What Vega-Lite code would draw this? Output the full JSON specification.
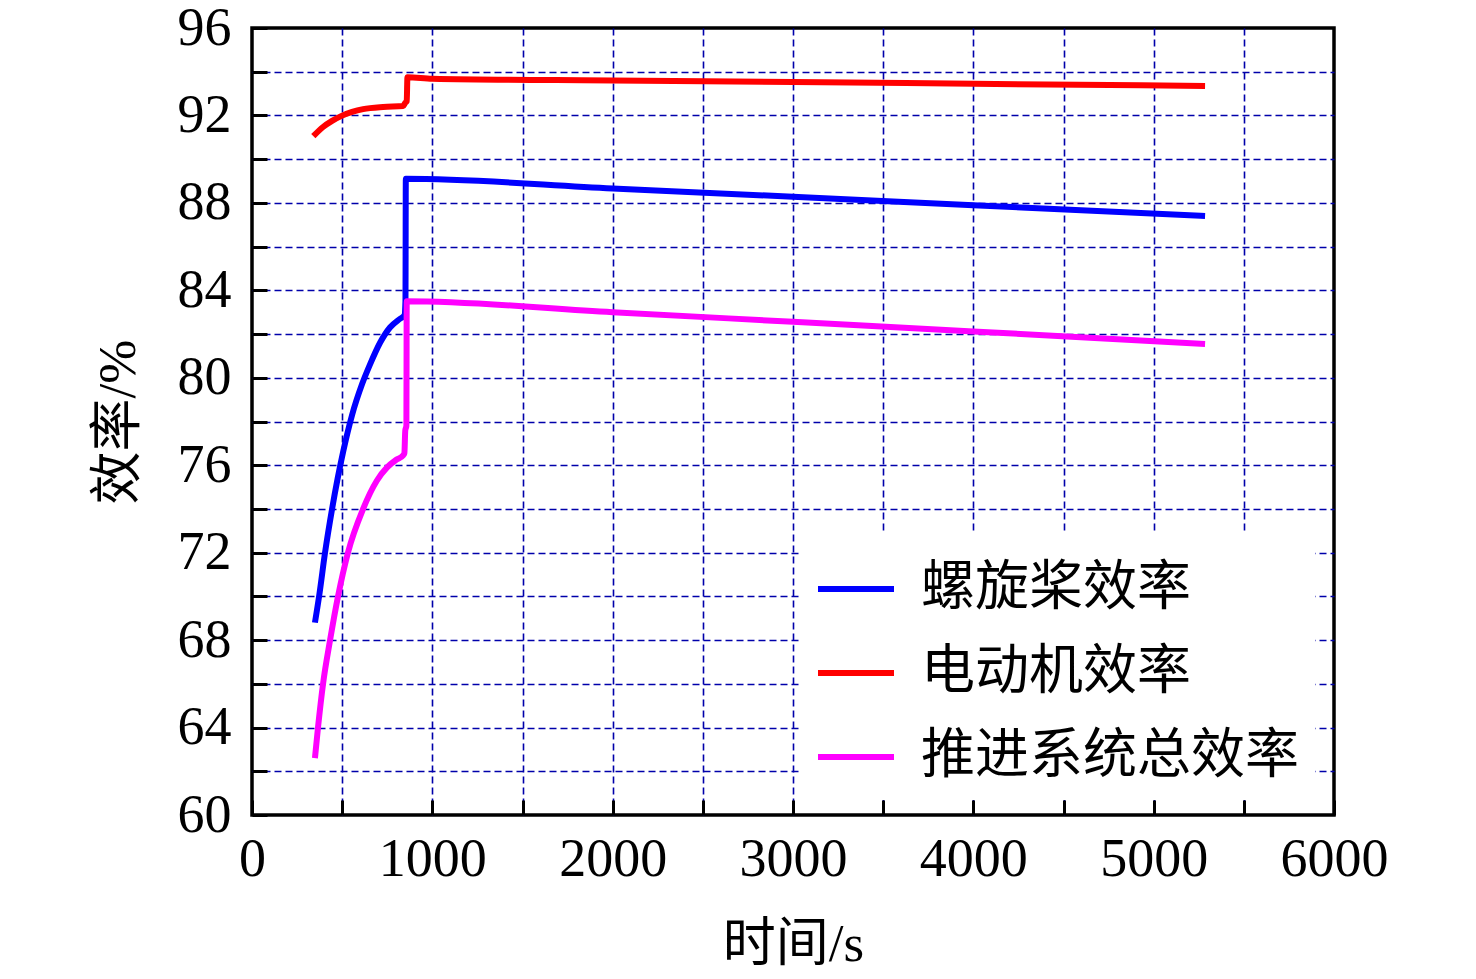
{
  "$schema": "https://vega.github.io/schema/vega-lite/v6.json",
  "width": 1082,
  "height": 787,
  "autosize": {"type": "none"},
  "padding": {"left": 252, "top": 28, "right": 142, "bottom": 164},
  "background": "white",
  "config": {
    "view": {"stroke": "black", "strokeWidth": 3.5},
    "axis": {
      "grid": true,
      "gridColor": "#0000AA",
      "gridDash": [7, 4],
      "gridWidth": 1.6,
      "domain": false,
      "tickColor": "black",
      "tickWidth": 3,
      "tickSize": -15,
      "labelFont": "Liberation Serif",
      "labelFontSize": 54,
      "labelColor": "black",
      "labelFlush": false,
      "labelOverlap": false,
      "titleFont": "Liberation Serif, Noto Sans CJK SC",
      "titleFontSize": 53,
      "titleFontWeight": "normal",
      "titleColor": "black"
    }
  },
  "data": {
    "values": [
      {"t": 349, "eff": 68.8, "series": "螺旋桨效率"},
      {"t": 372, "eff": 70.0, "series": "螺旋桨效率"},
      {"t": 405, "eff": 72.0, "series": "螺旋桨效率"},
      {"t": 444, "eff": 74.0, "series": "螺旋桨效率"},
      {"t": 475, "eff": 75.4, "series": "螺旋桨效率"},
      {"t": 505, "eff": 76.6, "series": "螺旋桨效率"},
      {"t": 555, "eff": 78.3, "series": "螺旋桨效率"},
      {"t": 610, "eff": 79.7, "series": "螺旋桨效率"},
      {"t": 654, "eff": 80.6, "series": "螺旋桨效率"},
      {"t": 710, "eff": 81.6, "series": "螺旋桨效率"},
      {"t": 765, "eff": 82.3, "series": "螺旋桨效率"},
      {"t": 821, "eff": 82.7, "series": "螺旋桨效率"},
      {"t": 845, "eff": 82.85, "series": "螺旋桨效率"},
      {"t": 851, "eff": 83.5, "series": "螺旋桨效率"},
      {"t": 853, "eff": 89.1, "series": "螺旋桨效率"},
      {"t": 2000, "eff": 88.66, "series": "螺旋桨效率"},
      {"t": 3000, "eff": 88.28, "series": "螺旋桨效率"},
      {"t": 4000, "eff": 87.89, "series": "螺旋桨效率"},
      {"t": 5285, "eff": 87.4, "series": "螺旋桨效率"},
      {"t": 340, "eff": 91.05, "series": "电动机效率"},
      {"t": 394, "eff": 91.47, "series": "电动机效率"},
      {"t": 444, "eff": 91.75, "series": "电动机效率"},
      {"t": 494, "eff": 91.97, "series": "电动机效率"},
      {"t": 555, "eff": 92.16, "series": "电动机效率"},
      {"t": 616, "eff": 92.29, "series": "电动机效率"},
      {"t": 727, "eff": 92.39, "series": "电动机效率"},
      {"t": 838, "eff": 92.43, "series": "电动机效率"},
      {"t": 849, "eff": 92.57, "series": "电动机效率"},
      {"t": 858, "eff": 92.65, "series": "电动机效率"},
      {"t": 862, "eff": 93.75, "series": "电动机效率"},
      {"t": 1000, "eff": 93.68, "series": "电动机效率"},
      {"t": 2000, "eff": 93.6, "series": "电动机效率"},
      {"t": 3000, "eff": 93.53, "series": "电动机效率"},
      {"t": 4000, "eff": 93.45, "series": "电动机效率"},
      {"t": 5285, "eff": 93.35, "series": "电动机效率"},
      {"t": 349, "eff": 62.6, "series": "推进系统总效率"},
      {"t": 366, "eff": 64.0, "series": "推进系统总效率"},
      {"t": 394, "eff": 66.0, "series": "推进系统总效率"},
      {"t": 433, "eff": 68.0, "series": "推进系统总效率"},
      {"t": 477, "eff": 70.0, "series": "推进系统总效率"},
      {"t": 532, "eff": 72.0, "series": "推进系统总效率"},
      {"t": 616, "eff": 74.0, "series": "推进系统总效率"},
      {"t": 693, "eff": 75.3, "series": "推进系统总效率"},
      {"t": 749, "eff": 75.9, "series": "推进系统总效率"},
      {"t": 800, "eff": 76.25, "series": "推进系统总效率"},
      {"t": 838, "eff": 76.45, "series": "推进系统总效率"},
      {"t": 845, "eff": 76.55, "series": "推进系统总效率"},
      {"t": 850, "eff": 77.6, "series": "推进系统总效率"},
      {"t": 856, "eff": 77.8, "series": "推进系统总效率"},
      {"t": 858, "eff": 83.5, "series": "推进系统总效率"},
      {"t": 2000, "eff": 83.0, "series": "推进系统总效率"},
      {"t": 3000, "eff": 82.56, "series": "推进系统总效率"},
      {"t": 4000, "eff": 82.12, "series": "推进系统总效率"},
      {"t": 5285, "eff": 81.55, "series": "推进系统总效率"}
    ]
  },
  "mark": {"type": "line", "strokeWidth": 6, "interpolate": "monotone"},
  "encoding": {
    "x": {
      "field": "t",
      "type": "quantitative",
      "scale": {"domain": [0, 6000], "nice": false, "zero": false},
      "axis": {
        "title": "时间/s",
        "values": [0, 500, 1000, 1500, 2000, 2500, 3000, 3500, 4000, 4500, 5000, 5500, 6000],
        "format": "d",
        "labelExpr": "datum.value % 1000 === 0 ? datum.label : ''",
        "labelPadding": 32,
        "labelAlign": "center",
        "labelBaseline": "top",
        "titleX": 541,
        "titleY": 145,
        "titleAlign": "center",
        "titleBaseline": "alphabetic",
        "gridOpacity": {"condition": {"test": "datum.value === 0 || datum.value === 6000", "value": 0}, "value": 1}
      }
    },
    "y": {
      "field": "eff",
      "type": "quantitative",
      "scale": {"domain": [60, 96], "nice": false, "zero": false},
      "axis": {
        "title": "效率/%",
        "values": [60, 62, 64, 66, 68, 70, 72, 74, 76, 78, 80, 82, 84, 86, 88, 90, 92, 94, 96],
        "format": "d",
        "labelExpr": "datum.value % 4 === 0 ? datum.label : ''",
        "labelPadding": 36,
        "labelAlign": "right",
        "labelBaseline": "middle",
        "titleX": -118,
        "titleY": 393.5,
        "titleAngle": -90,
        "titleAlign": "center",
        "titleBaseline": "alphabetic",
        "gridOpacity": {"condition": {"test": "datum.value === 60 || datum.value === 96", "value": 0}, "value": 1}
      }
    },
    "color": {
      "field": "series",
      "type": "nominal",
      "scale": {
        "domain": ["螺旋桨效率", "电动机效率", "推进系统总效率"],
        "range": ["#0000FF", "#FF0000", "#FF00FF"]
      },
      "legend": {
        "orient": "none",
        "legendX": 547,
        "legendY": 504,
        "title": null,
        "symbolType": "stroke",
        "symbolSize": 5776,
        "symbolStrokeWidth": 6,
        "labelFont": "Noto Sans CJK SC",
        "labelFontSize": 54,
        "labelColor": "black",
        "labelOffset": 24,
        "labelLimit": 1000,
        "rowPadding": 16,
        "padding": 16,
        "fillColor": "white"
      }
    }
  }
}
